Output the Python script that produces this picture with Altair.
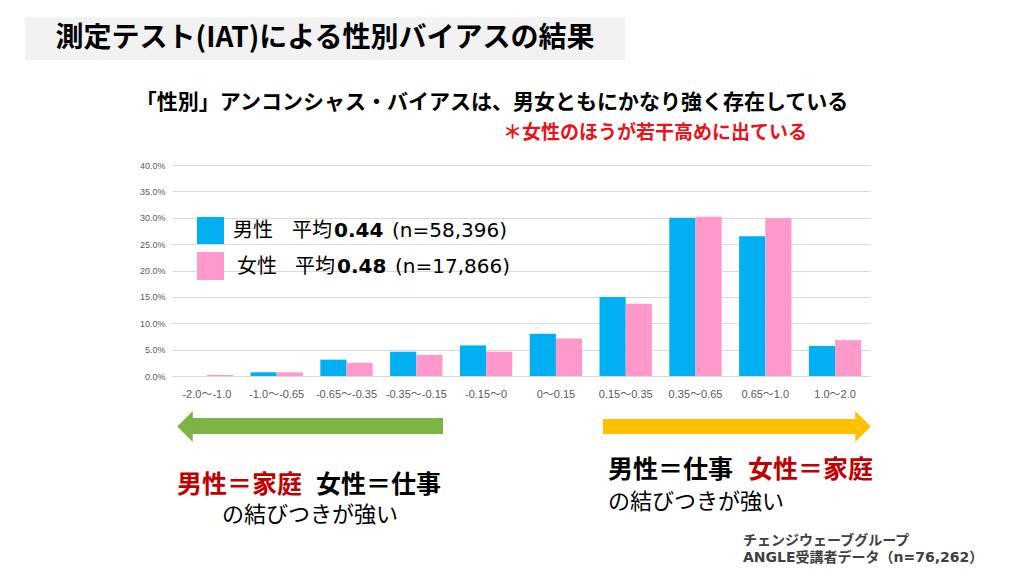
import altair as alt
import pandas as pd

# ---------------- data ----------------
categories = ["-2.0～-1.0", "-1.0～-0.65", "-0.65～-0.35", "-0.35～-0.15", "-0.15～0",
              "0～0.15", "0.15～0.35", "0.35～0.65", "0.65～1.0", "1.0～2.0"]
male_values = [0.000, 0.007, 0.031, 0.046, 0.058, 0.080, 0.150, 0.300, 0.265, 0.057]
female_values = [0.002, 0.007, 0.025, 0.040, 0.046, 0.071, 0.137, 0.302, 0.299, 0.068]
series = ["男性", "女性"]
series_colors = ["#00b0f0", "#ff99cc"]
y_ticks = [0.0, 0.05, 0.10, 0.15, 0.20, 0.25, 0.30, 0.35, 0.40]

rows = []
for c, m, f in zip(categories, male_values, female_values):
    rows.append({"range": c, "gender": series[0], "value": m})
    rows.append({"range": c, "gender": series[1], "value": f})
df = pd.DataFrame(rows)

# ---------------- layout ----------------
X0, Y0 = 172, 165      # page position of plot origin
W, H = 698, 211
JP = "Noto Sans CJK JP"
LAT = "DejaVu Sans, Noto Sans CJK JP"


def P(x):
    return x - X0


def Q(y):
    return y - Y0


one = pd.DataFrame({"k": [0]})


def txt(text, x, y, size, color="#000000", weight="normal", align="left", font=JP, baseline="middle"):
    return alt.Chart(one).mark_text(
        text=text, fontSize=size, fontWeight=weight, color=color, align=align,
        baseline=baseline, font=font
    ).encode(x=alt.value(P(x)), y=alt.value(Q(y)))


def rect(x1, x2, y1, y2, color):
    return alt.Chart(one).mark_rect(color=color).encode(
        x=alt.value(P(x1)), x2=alt.value(P(x2)), y=alt.value(Q(y1)), y2=alt.value(Q(y2))
    )


def head(x, y, color, direction):
    path = "M -0.5 0 L 0.5 -1 L 0.5 1 Z" if direction == "left" else "M 0.5 0 L -0.5 -1 L -0.5 1 Z"
    return alt.Chart(one).mark_point(shape=path, filled=True, opacity=1, color=color, size=31 * 31,
                                     strokeWidth=0).encode(x=alt.value(P(x)), y=alt.value(Q(y)))


bars = alt.Chart(df).mark_bar().encode(
    x=alt.X("range:N", sort=categories,
            scale=alt.Scale(paddingInner=0.25, paddingOuter=0.125),
            axis=alt.Axis(title=None, labelAngle=0, ticks=False, domainColor="#d9d9d9",
                          labelColor="#595959", labelFont="Liberation Sans, Noto Sans CJK JP",
                          labelFontSize=11, labelPadding=12)),
    xOffset=alt.XOffset("gender:N", sort=series, scale=alt.Scale(paddingInner=0, paddingOuter=0)),
    y=alt.Y("value:Q", scale=alt.Scale(domain=[0, 0.4]),
            axis=alt.Axis(values=y_ticks, format=".1%", title=None, domain=False, ticks=False,
                          gridColor="#d9d9d9", labelColor="#595959", labelFont="Liberation Sans",
                          labelFontSize=9, labelPadding=7)),
    color=alt.Color("gender:N", scale=alt.Scale(domain=series, range=series_colors), legend=None),
)

layers = [
    # title box
    rect(25, 625, 17, 60, "#f2f2f2"),
    txt("測定テスト(IAT)による性別バイアスの結果", 325, 39, 28, weight="bold", align="center"),
    txt("「性別」アンコンシャス・バイアスは、男女ともにかなり強く存在している", 492, 103, 21,
        weight="bold", align="center"),
    txt("＊女性のほうが若干高めに出ている", 655, 133, 19, color="#e8141b", weight="bold", align="center"),
    bars,
    # legend
    rect(197, 224, 217, 244, series_colors[0]),
    rect(197, 224, 252, 280, series_colors[1]),
    txt("男性", 233, 231, 20, font=LAT),
    txt("平均", 292, 231, 20, font=LAT),
    txt("0.44", 334, 231, 20, weight="bold", font=LAT),
    txt("(n=58,396)", 392, 231, 20, font=LAT),
    txt("女性", 237, 267, 20, font=LAT),
    txt("平均", 295, 267, 20, font=LAT),
    txt("0.48", 337, 267, 20, weight="bold", font=LAT),
    txt("(n=17,866)", 395, 267, 20, font=LAT),
    # arrows
    rect(192, 443, 418, 434, "#7cb342"),
    head(185, 426.5, "#7cb342", "left"),
    rect(603, 858, 419, 434, "#ffc000"),
    head(863, 426.5, "#ffc000", "right"),
    # bottom texts
    txt("男性＝家庭", 177, 485, 25, color="#c00000", weight="bold"),
    txt("女性＝仕事", 316, 485, 25, weight="bold"),
    txt("の結びつきが強い", 310, 515, 22, align="center"),
    txt("男性＝仕事", 608, 470, 25, weight="bold"),
    txt("女性＝家庭", 748, 470, 25, color="#c00000", weight="bold"),
    txt("の結びつきが強い", 608, 502, 22),
    txt("チェンジウェーブグループ", 743, 541, 14, color="#404040", weight="bold", font=LAT),
    txt("ANGLE受講者データ（n=76,262）", 743, 558, 14, color="#404040", weight="bold", font=LAT),
]

chart = alt.layer(*layers).properties(
    width=W, height=H,
    autosize=alt.AutoSizeParams(type="none"),
    padding={"left": X0 - 8, "top": Y0 - 8, "right": 1008 - (X0 - 8) - W, "bottom": 560 - (Y0 - 8) - H},
    background="white",
).configure_view(stroke=None)

chart.save("out.html", embed_options={"renderer": "svg", "actions": False})
